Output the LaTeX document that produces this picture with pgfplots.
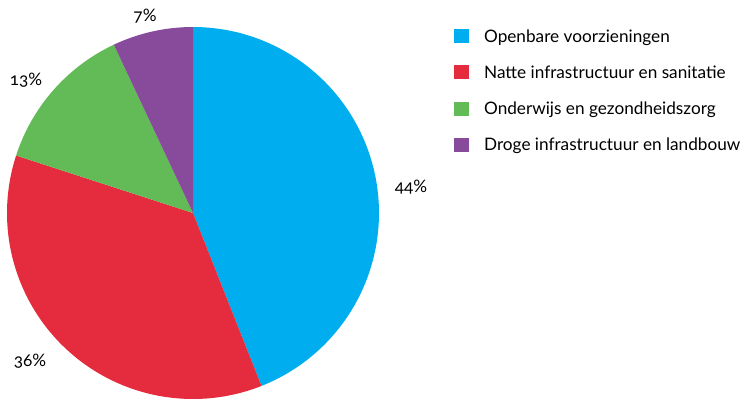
\documentclass[border=0pt]{standalone}
\usepackage{pgfplots}
\usepackage{pgfplotstable}
\pgfplotsset{compat=1.18}
\usepackage{fontspec}
\setmainfont[Numbers=OldStyle]{Lato}
\definecolor{cblue}{RGB}{0,174,239}
\definecolor{cred}{RGB}{229,43,62}
\definecolor{cgreen}{RGB}{98,187,86}
\definecolor{cpurple}{RGB}{136,74,155}
\pgfplotstableread{
label value
A 44
B 36
C 13
D 7
}\piedata
\pgfplotstablegetelem{0}{value}\of\piedata \let\va\pgfplotsretval
\pgfplotstablegetelem{1}{value}\of\piedata \let\vb\pgfplotsretval
\pgfplotstablegetelem{2}{value}\of\piedata \let\vc\pgfplotsretval
\pgfplotstablegetelem{3}{value}\of\piedata \let\vd\pgfplotsretval
\pgfmathsetmacro\aA{90}
\pgfmathsetmacro\aB{\aA-3.6*\va}
\pgfmathsetmacro\aC{\aB-3.6*\vb}
\pgfmathsetmacro\aD{\aC-3.6*\vc}
\pgfmathsetmacro\aE{\aD-3.6*\vd}
\begin{document}
\begin{tikzpicture}[font=\fontsize{17.2pt}{20pt}\selectfont]
\useasboundingbox (0,0) rectangle (745pt,-401pt);
\begin{axis}[
  x=186pt, y=186pt,
  at={(193pt,-213pt)}, anchor=origin,
  xmin=-1, xmax=1, ymin=-1, ymax=1,
  hide axis, clip=false,
  legend style={at={(axis cs:1.403,0.99)}, anchor=north west, draw=none, fill=none,
    inner sep=0pt, row sep=21.8pt,
    nodes={inner sep=0pt, anchor=base west, font=\fontsize{17.2pt}{20pt}\selectfont},
    /tikz/every odd column/.append style={column sep=15pt}},
  legend cell align=left,
  legend image code/.code={\fill[#1] (0pt,-1pt) rectangle (15pt,13pt);},
]
\addplot[fill=cblue, draw=none, domain=\aB:\aA, samples=120] ({cos(x)},{sin(x)}) -- (axis cs:0,0) -- cycle;
\addlegendentry{Openbare voorzieningen}
\addplot[fill=cred, draw=none, domain=\aC:\aB, samples=120] ({cos(x)},{sin(x)}) -- (axis cs:0,0) -- cycle;
\addlegendentry{Natte infrastructuur en sanitatie}
\addplot[fill=cgreen, draw=none, domain=\aD:\aC, samples=60] ({cos(x)},{sin(x)}) -- (axis cs:0,0) -- cycle;
\addlegendentry{Onderwijs en gezondheidszorg}
\addplot[fill=cpurple, draw=none, domain=\aE:\aD, samples=40] ({cos(x)},{sin(x)}) -- (axis cs:0,0) -- cycle;
\addlegendentry{Droge infrastructuur en landbouw}
\node at (axis cs:1.172,0.140) {44\%};
\node at (axis cs:-0.876,-0.798) {36\%};
\node at (axis cs:-0.898,0.715) {13\%};
\node at (axis cs:-0.258,1.059) {7\%};
\end{axis}
\end{tikzpicture}
\end{document}
